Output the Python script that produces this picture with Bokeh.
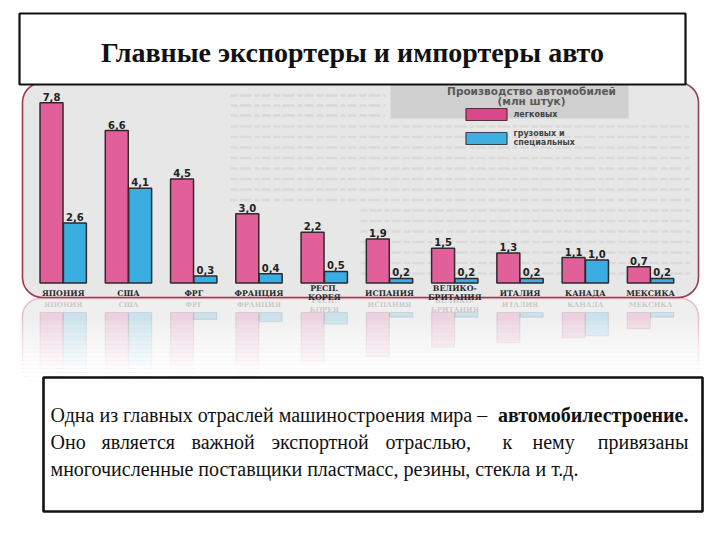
from bokeh.plotting import figure
from bokeh.models import Range1d, BoxAnnotation, ColumnDataSource
from bokeh.core.properties import value
from bokeh.transform import dodge
from bokeh.embed import file_html
from bokeh.resources import INLINE

# ---------------- data ----------------
countries = ["ЯПОНИЯ", "США", "ФРГ", "ФРАНЦИЯ", "РЕСП.\nКОРЕЯ", "ИСПАНИЯ",
             "ВЕЛИКО-\nБРИТАНИЯ", "ИТАЛИЯ", "КАНАДА", "МЕКСИКА"]
cars = [7.8, 6.6, 4.5, 3.0, 2.2, 1.9, 1.5, 1.3, 1.1, 0.7]
trucks = [2.6, 4.1, 0.3, 0.4, 0.5, 0.2, 0.2, 0.2, 1.0, 0.2]
series_names = ["легковых", "грузовых и\nспециальных"]
legend_title = "Производство автомобилей\n(млн штук)"
title_text = "Главные экспортеры и импортеры авто"
body_line1 = "Одна из главных отраслей  машиностроения мира – "
body_line1_bold = "автомобилестроение."
body_line2_words = ["Оно", "является", "важной", "экспортной", "отраслью,", "к", "нему", "привязаны"]
body_line3 = "многочисленные  поставщики пластмасс, резины, стекла и т.д."

PINK = "#e2609a"
BLUE = "#3aaee0"
EDGE = "#2f2a2c"

W, H = 720, 540
base_px, unit_px = 282.5, 23.1      # baseline of bars and pixels per million
first_px, step_px = 62.7, 65.26     # centre of first group and spacing
refl_px = 312.0                     # baseline of mirrored reflection

p = figure(width=W, height=H, x_range=Range1d(0, W), y_range=Range1d(H, 0),
           min_border=0, toolbar_location=None, output_backend="svg",
           x_axis_location=None, y_axis_location=None,
           background_fill_color="white", border_fill_color="white",
           outline_line_color=None)
p.grid.visible = False

p.extra_x_ranges = {"cat": Range1d(-first_px / step_px, (W - first_px) / step_px)}
p.extra_y_ranges = {
    "val": Range1d((base_px - H) / unit_px, base_px / unit_px),
    "refl": Range1d((H - refl_px) / unit_px, -refl_px / unit_px),
}

src = ColumnDataSource(dict(
    idx=list(range(len(countries))),
    country=countries,
    cars=cars,
    trucks=trucks,
    cars_lbl=[f"{v:.1f}".replace(".", ",") for v in cars],
    trucks_lbl=[f"{v:.1f}".replace(".", ",") for v in trucks],
))

# ---------------- backgrounds ----------------
p.add_layout(BoxAnnotation(left=22, right=698, top=298, bottom=385, border_radius=18,
                           fill_color="#efefef", fill_alpha=1.0,
                           line_color="#e9bcc6", line_alpha=1.0, line_width=1.5,
                           level="underlay"))
p.add_layout(BoxAnnotation(left=22, right=698, top=82, bottom=297, border_radius=20,
                           fill_color="#e7e7e7", fill_alpha=1.0,
                           line_color="#9c3a50", line_alpha=1.0, line_width=1.6,
                           level="underlay"))
p.add_layout(BoxAnnotation(left=390, right=628, top=84, bottom=118,
                           fill_color="#cdcdcd", fill_alpha=0.9, line_color=None,
                           level="underlay"))

# faint scanned text behind chart (decoration)
rows_x0, rows_x1, rows_y = [], [], []
y = 126.0
while y < 276:
    rows_x0.append(230 if y < 200 else 360)
    rows_x1.append(690)
    rows_y.append(y)
    y += 10.5
p.segment(x0=rows_x0, x1=rows_x1, y0=rows_y, y1=rows_y, line_color="#dadada",
          line_width=2.5, line_dash="7 2 12 3 5 2 9 3")
p.segment(x0=[230, 230, 230], x1=[385, 385, 385], y0=[95, 105, 115], y1=[95, 105, 115],
          line_color="#d8d8d8", line_width=2.5, line_dash="7 2 12 3 5 2 9 3")

# ---------------- bars ----------------
p.vbar(x=dodge("idx", -0.179), top="cars", bottom=0, width=0.352, source=src,
       x_range_name="cat", y_range_name="val",
       fill_color=PINK, line_color=EDGE, line_width=1.5)
p.vbar(x=dodge("idx", 0.179), top="trucks", bottom=0, width=0.352, source=src,
       x_range_name="cat", y_range_name="val",
       fill_color=BLUE, line_color=EDGE, line_width=1.5)

# reflection
p.vbar(x=dodge("idx", -0.179), top="cars", bottom=0, width=0.352, source=src,
       x_range_name="cat", y_range_name="refl",
       fill_color=PINK, fill_alpha=0.2, line_color=EDGE, line_alpha=0.1, line_width=1.2)
p.vbar(x=dodge("idx", 0.179), top="trucks", bottom=0, width=0.352, source=src,
       x_range_name="cat", y_range_name="refl",
       fill_color=BLUE, fill_alpha=0.2, line_color=EDGE, line_alpha=0.1, line_width=1.2)
p.text(x="idx", y=0, text="country", source=src, x_range_name="cat", y_range_name="refl",
       text_align="center", text_baseline="middle", y_offset=-8,
       text_font=value("DejaVu Serif"), text_font_style="bold", text_font_size="7px",
       text_color="#9a9a9a", text_alpha=0.45, text_line_height=1.0)

# fade out reflection
n = 14
for k in range(n):
    p.add_layout(BoxAnnotation(left=18, right=702, top=320 + k * 4, bottom=320 + (k + 1) * 4,
                               fill_color="white", fill_alpha=min(1.0, 0.15 + k * 0.07),
                               line_color=None))
p.add_layout(BoxAnnotation(left=0, right=W, top=376, bottom=H,
                           fill_color="white", fill_alpha=1.0, line_color=None))

# value labels
p.text(x=dodge("idx", -0.179), y="cars", text="cars_lbl", source=src,
       x_range_name="cat", y_range_name="val", text_align="center",
       text_baseline="bottom", y_offset=-2, text_font=value("DejaVu Sans"),
       text_font_style="bold", text_font_size="10px", text_color="#222222")
p.text(x=dodge("idx", 0.179), y="trucks", text="trucks_lbl", source=src,
       x_range_name="cat", y_range_name="val", text_align="center",
       text_baseline="bottom", y_offset=-2, text_font=value("DejaVu Sans"),
       text_font_style="bold", text_font_size="10px", text_color="#222222")

# category labels
p.text(x="idx", y=0, text="country", source=src, x_range_name="cat", y_range_name="val",
       text_align="center", text_baseline="middle", y_offset=10,
       text_font=value("DejaVu Serif"), text_font_style="bold", text_font_size="7.8px",
       text_color="#2a2a2a", text_line_height=1.05)

# ---------------- legend ----------------
p.text(x=[531], y=[84], text=[legend_title], text_align="center", text_baseline="top",
       text_font=value("DejaVu Sans"), text_font_style="bold", text_font_size="10.5px",
       text_color="#5a5a5a", text_line_height=0.9)
p.rect(x=[486], y=[114], width=[41], height=[12], fill_color="#d9488a",
       line_color="#553040", line_width=1.2)
p.rect(x=[486], y=[138], width=[41], height=[12], fill_color="#3eb0e0",
       line_color="#334450", line_width=1.2)
p.text(x=[513, 513], y=[114, 137], text=series_names, text_align="left",
       text_baseline="middle", text_font=value("DejaVu Sans"), text_font_style="bold",
       text_font_size="8px", text_color="#444444", text_line_height=1.0)

# ---------------- title box ----------------
p.add_layout(BoxAnnotation(left=19, right=685, top=13, bottom=84,
                           fill_color="white", fill_alpha=1.0,
                           line_color="#111111", line_alpha=1.0, line_width=2.2,
                           level="underlay"))
p.text(x=[352], y=[52], text=[title_text], text_align="center", text_baseline="middle",
       text_font=value("Liberation Serif"), text_font_style="bold",
       text_font_size="28px", text_color="#111111")

# ---------------- text box ----------------
p.add_layout(BoxAnnotation(left=43, right=702, top=377, bottom=511,
                           fill_color="white", fill_alpha=0.0,
                           line_color="#111111", line_alpha=1.0, line_width=2.6))
FONT = value("Liberation Serif")
FS = "20px"
body = []
body.append(p.text(x=[50], y=[414], text=[body_line1], text_align="left", text_baseline="middle",
                   text_font=FONT, text_font_size=FS, text_color="#111111"))
body.append(p.text(x=[688], y=[414], text=[body_line1_bold], text_align="right",
                   text_baseline="middle", text_font=FONT, text_font_style="bold",
                   text_font_size=FS, text_color="#111111"))
word_x = [50, 101, 191, 271, 385, 502, 532, 688]
body.append(p.text(x=word_x[:-1], y=[441] * 7, text=body_line2_words[:-1], text_align="left",
                   text_baseline="middle", text_font=FONT, text_font_size=FS,
                   text_color="#111111"))
body.append(p.text(x=word_x[-1:], y=[441], text=body_line2_words[-1:], text_align="right",
                   text_baseline="middle", text_font=FONT, text_font_size=FS,
                   text_color="#111111"))
body.append(p.text(x=[50], y=[468], text=[body_line3], text_align="left", text_baseline="middle",
                   text_font=FONT, text_font_size=FS, text_color="#111111"))
for r in body:
    r.level = "overlay"

open("out.html", "w").write(file_html(p, INLINE))
